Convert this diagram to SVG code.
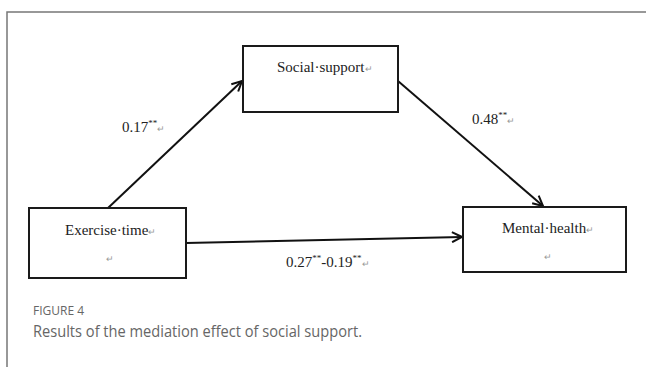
<svg xmlns="http://www.w3.org/2000/svg" width="646" height="367" viewBox="0 0 646 367">
<style>
.box{fill:#fff;stroke:#1a1a1a;stroke-width:2}
.t{font-family:"Liberation Serif","Times New Roman",serif;font-size:15px;fill:#222}
.m{font-size:9px;fill:#999}
.sup{font-size:9px}
.edge{stroke:#111;stroke-width:2;fill:none}
.cap{font-family:"Open Sans","Noto Sans",sans-serif;fill:#666}
</style>
<defs>
<marker id="ah" markerWidth="12" markerHeight="12" refX="11" refY="6" orient="auto" markerUnits="userSpaceOnUse">
<path d="M1,1 L11,6 L1,11" fill="none" stroke="#111" stroke-width="2"/>
</marker>
</defs>
<rect width="646" height="367" fill="#fff"/>
<path d="M7,367 V12 H646" fill="none" stroke="#777" stroke-width="1.5"/>
<g id="connectors">
<line class="edge" x1="108" y1="208" x2="242" y2="81" marker-end="url(#ah)"/>
<line class="edge" x1="398" y1="81" x2="543" y2="206" marker-end="url(#ah)"/>
<line class="edge" x1="186" y1="243" x2="462" y2="237" marker-end="url(#ah)"/>
<text class="t" x="122" y="132">0.17<tspan class="sup" dy="-6">**</tspan><tspan class="m" dy="6">↵</tspan></text>
<text class="t" x="472" y="124">0.48<tspan class="sup" dy="-6">**</tspan><tspan class="m" dy="6">↵</tspan></text>
<text class="t" x="286" y="267">0.27<tspan class="sup" dy="-6">**</tspan><tspan dy="6">-0.19</tspan><tspan class="sup" dy="-6">**</tspan><tspan class="m" dy="6">↵</tspan></text>
</g>
<g id="social-support">
<rect class="box" x="243" y="46" width="155" height="66"/>
<text class="t" x="277" y="72">Social·support<tspan class="m">↵</tspan></text>
</g>
<g id="exercise-time">
<rect class="box" x="29" y="208" width="157" height="70"/>
<text class="t" x="65" y="235">Exercise·time<tspan class="m">↵</tspan></text>
<text class="t m" x="106" y="262">↵</text>
</g>
<g id="mental-health">
<rect class="box" x="463" y="207" width="163" height="65"/>
<text class="t" x="502" y="233">Mental·health<tspan class="m">↵</tspan></text>
<text class="t m" x="544" y="260">↵</text>
</g>
<text class="cap" x="33" y="315" font-size="12" font-weight="500">FIGURE 4</text>
<text class="cap" x="33" y="337" font-size="16" textLength="329" lengthAdjust="spacingAndGlyphs">Results of the mediation effect of social support.</text>
</svg>
